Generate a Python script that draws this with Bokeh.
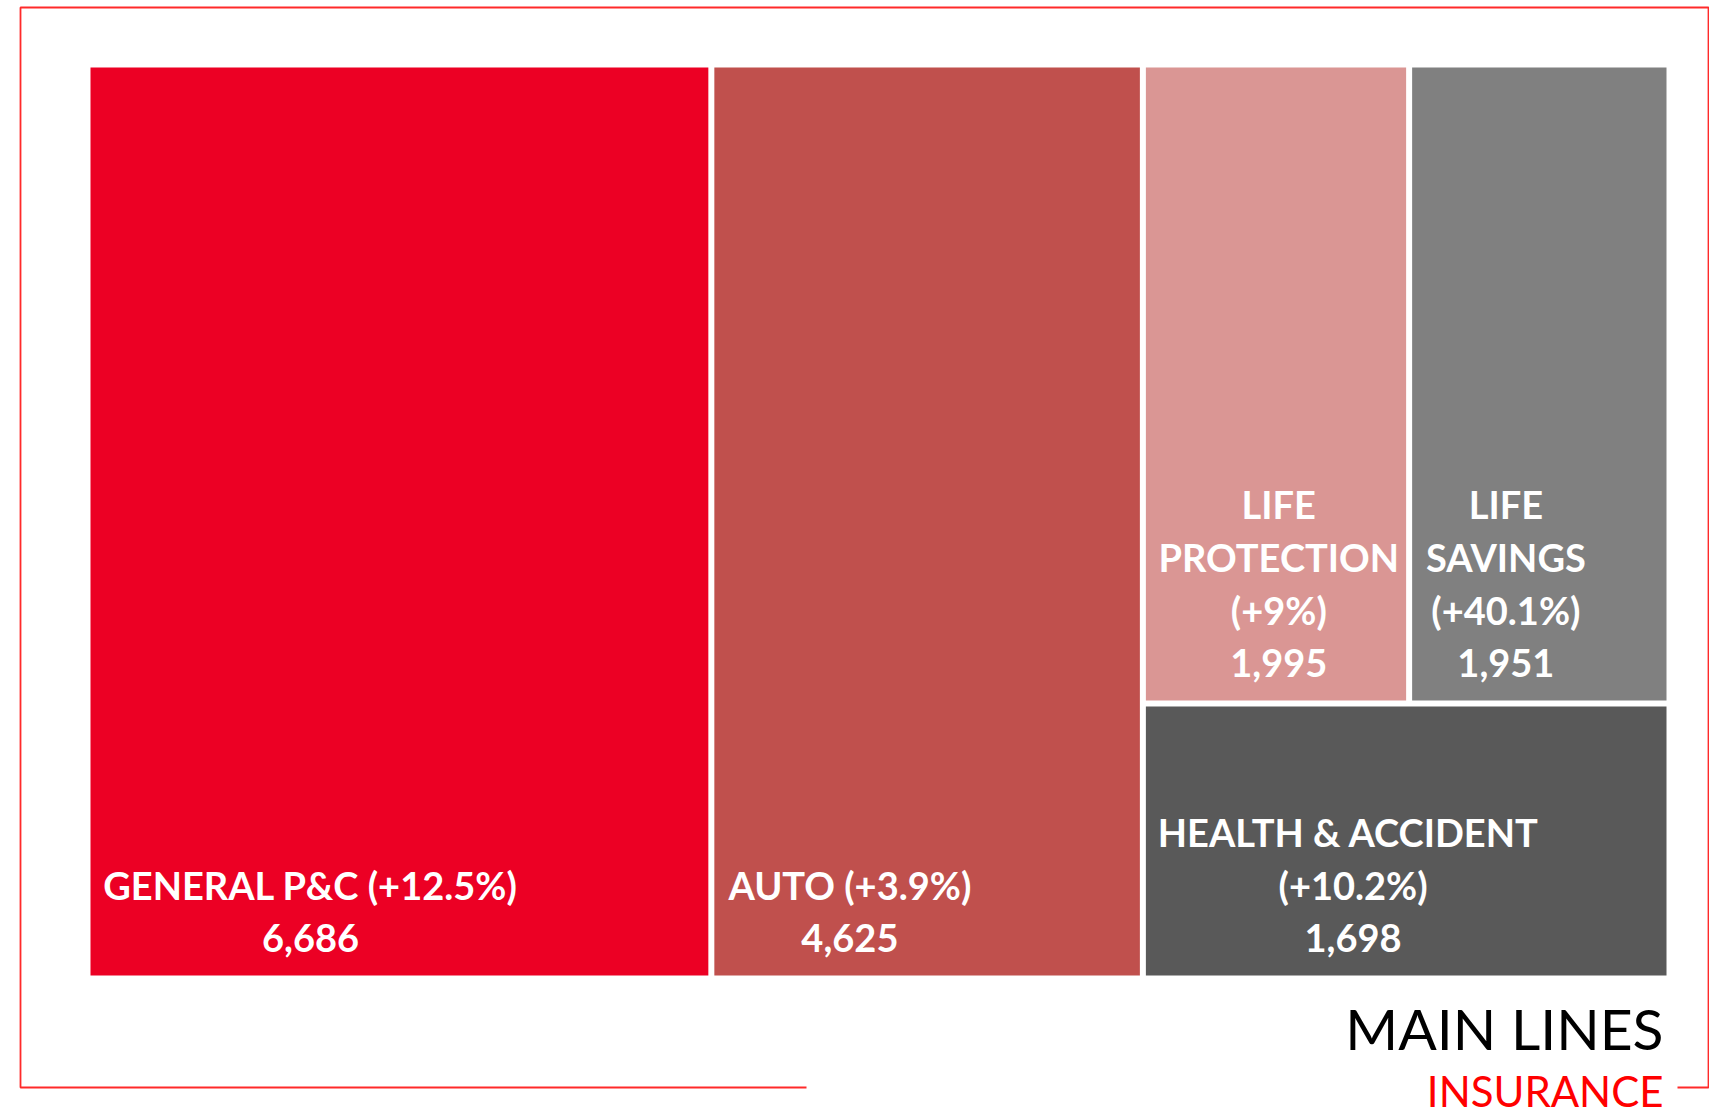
from bokeh.plotting import figure
from bokeh.models import Range1d, ColumnDataSource
from bokeh.embed import file_html
from bokeh.resources import INLINE
from bokeh.core.properties import value

# ---------------- data ----------------
categories = ["GENERAL P&C", "AUTO", "LIFE\nPROTECTION", "LIFE\nSAVINGS", "HEALTH  & ACCIDENT"]
premiums = [6686, 4625, 1995, 1951, 1698]
growth = ["+12.5%", "+3.9%", "+9%", "+40.1%", "+10.2%"]
growth_inline = [True, True, False, False, False]
colors = ["#EC0024", "#C0504D", "#DA9694", "#808080", "#595959"]
title_main = "MAIN LINES"
title_sub = "INSURANCE"

# ---------------- layout constants (reference pixel space) ----------------
X0, X1, Y0, Y1 = 87.0, 1669.0, 64.0, 978.0   # treemap region (outer, incl. half gaps)
GAP = 3.0
FONT = "Lato"
LABEL_SIZE = 38
LINE_STEP = 53
PAD_X = 13
PAD_BOTTOM = 38
FIG_W, FIG_H = 1709, 1114

# rough Lato Bold advance widths (em) for centring label blocks
CW = {"A": .70, "C": .66, "D": .75, "E": .57, "F": .55, "G": .73, "H": .76, "I": .30,
      "L": .50, "N": .76, "O": .79, "P": .62, "R": .64, "S": .53, "T": .59, "U": .73,
      "V": .70, "&": .72, "(": .32, ")": .32, "+": .58, "%": .83, ".": .22, ",": .22,
      " ": .21}


def text_width(s, size):
    return sum(CW.get(ch, .58) for ch in s) * size


# ---------------- treemap layout computed from values ----------------
T = float(sum(premiums))
W = X1 - X0
H = Y1 - Y0
cells = []
xa = X0
xb = xa + W * premiums[0] / T
cells.append((xa, xb, Y0, Y1))
xc = xb + W * premiums[1] / T
cells.append((xb, xc, Y0, Y1))
rest = premiums[2] + premiums[3] + premiums[4]
ysplit = Y0 + H * (premiums[2] + premiums[3]) / rest
xd = xc + (X1 - xc) * premiums[2] / (premiums[2] + premiums[3])
cells.append((xc, xd, Y0, ysplit))
cells.append((xd, X1, Y0, ysplit))
cells.append((xc, X1, ysplit, Y1))

left = [c[0] + GAP for c in cells]
right = [c[1] - GAP for c in cells]
top = [c[2] + GAP for c in cells]
bottom = [c[3] - GAP for c in cells]

rect_src = ColumnDataSource(dict(left=left, right=right, top=top, bottom=bottom,
                                 color=colors, cat=categories, val=premiums))

# ---------------- labels ----------------
lx, ly, lt = [], [], []
for i, cat in enumerate(categories):
    name_lines = cat.split("\n")
    if growth_inline[i]:
        name_lines[-1] = f"{name_lines[-1]} ({growth[i]})"
        lines = name_lines + [f"{premiums[i]:,}"]
    else:
        lines = name_lines + [f"({growth[i]})", f"{premiums[i]:,}"]
    block_w = max(text_width(s, LABEL_SIZE) for s in lines)
    cx = left[i] + PAD_X + block_w / 2
    n = len(lines)
    for k, s in enumerate(lines):
        lx.append(cx)
        ly.append(bottom[i] - PAD_BOTTOM - (n - 1 - k) * LINE_STEP)
        lt.append(s)

label_src = ColumnDataSource(dict(x=lx, y=ly, text=lt))

# ---------------- figure ----------------
p = figure(width=FIG_W, height=FIG_H, x_range=Range1d(0, FIG_W), y_range=Range1d(FIG_H, 0),
           output_backend="svg", toolbar_location=None, min_border=0)
p.axis.visible = False
p.grid.visible = False
p.outline_line_color = None
p.background_fill_color = "white"
p.border_fill_color = "white"

# decorative frame
frame_color = "#FF2A2A"
p.multi_line(xs=[[806, 20, 20, 1708, 1708, 1677]],
             ys=[[1087, 1087, 7, 7, 1087, 1087]],
             line_color=frame_color, line_width=1.8)

p.quad(left="left", right="right", top="top", bottom="bottom", source=rect_src,
       fill_color="color", line_color=None)

p.text(x="x", y="y", text="text", source=label_src, text_color="white",
       text_font=value(FONT), text_font_style="bold", text_font_size=f"{LABEL_SIZE}px",
       text_align="center", text_baseline="middle")

p.text(x=[1663], y=[1027], text=[title_main], text_color="black",
       text_font=value(FONT), text_font_size="57px",
       text_align="right", text_baseline="middle")
p.text(x=[1663], y=[1090], text=[title_sub], text_color="#FF0000",
       text_font=value(FONT), text_font_size="42px",
       text_align="right", text_baseline="middle")

open("out.html", "w").write(file_html(p, INLINE))
